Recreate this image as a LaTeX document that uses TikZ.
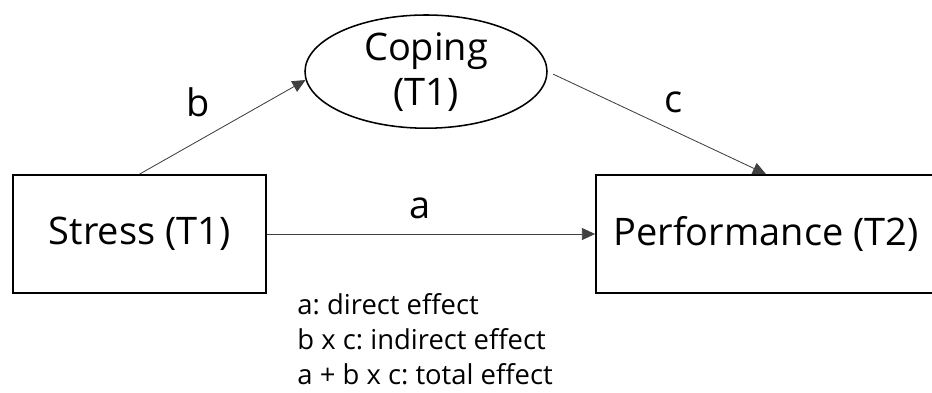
\documentclass[tikz,border=0pt]{standalone}
\usepackage{fontspec}
\setmainfont{Open Sans}
\usepackage{tikz}
\usetikzlibrary{arrows.meta,positioning,shapes.geometric}
\frenchspacing
\tikzset{
  var/.style  ={rectangle, draw=black, line width=1.3pt, fill=white,
                align=center, font=\fontsize{27}{32}\selectfont},
  med/.style  ={ellipse, draw=black, line width=1.1pt, fill=white,
                align=center, inner sep=0pt, font=\fontsize{27}{32}\selectfont},
  ar/.style   ={-{Triangle[length=0.33cm,width=0.3cm]}, draw=black!75, line width=0.6pt},
  lbl/.style  ={font=\fontsize{27}{32}\selectfont},
  note/.style ={anchor=base west, inner sep=0pt, font=\fontsize{19.5}{23}\selectfont}
}
\begin{document}
\begin{tikzpicture}
\useasboundingbox (0,0) rectangle (23.3,-9.8);

\node[var, minimum width=6.33cm, minimum height=2.95cm] (stress) at (3.49,-5.85) {Stress (T1)};
\node[var, minimum width=8.5cm, minimum height=2.95cm] (perf) at (19.15,-5.85) {Performance (T2)};
\node[med, minimum width=6.05cm, minimum height=2.83cm] (coping) at (10.65,-1.79) {Coping\\(T1)};

\draw[ar] (stress.east) -- (perf.west);
\draw[ar] (stress.north) -- (coping.184);
\draw[ar, shorten <=0.15cm] (coping.east) -- (perf.north);

\node[lbl] (la) at (10.5,-5.2) {a};
\node[lbl] (lb) at (4.95,-2.55) {b};
\node[lbl] (lc) at (16.83,-2.55) {c};

\node[note] (n1) at (7.43,-7.85) {a: direct effect};
\node[note] (n2) at (7.43,-8.74) {b x c: indirect effect};
\node[note] (n3) at (7.43,-9.6) {a + b x c: total effect};
\end{tikzpicture}
\end{document}
